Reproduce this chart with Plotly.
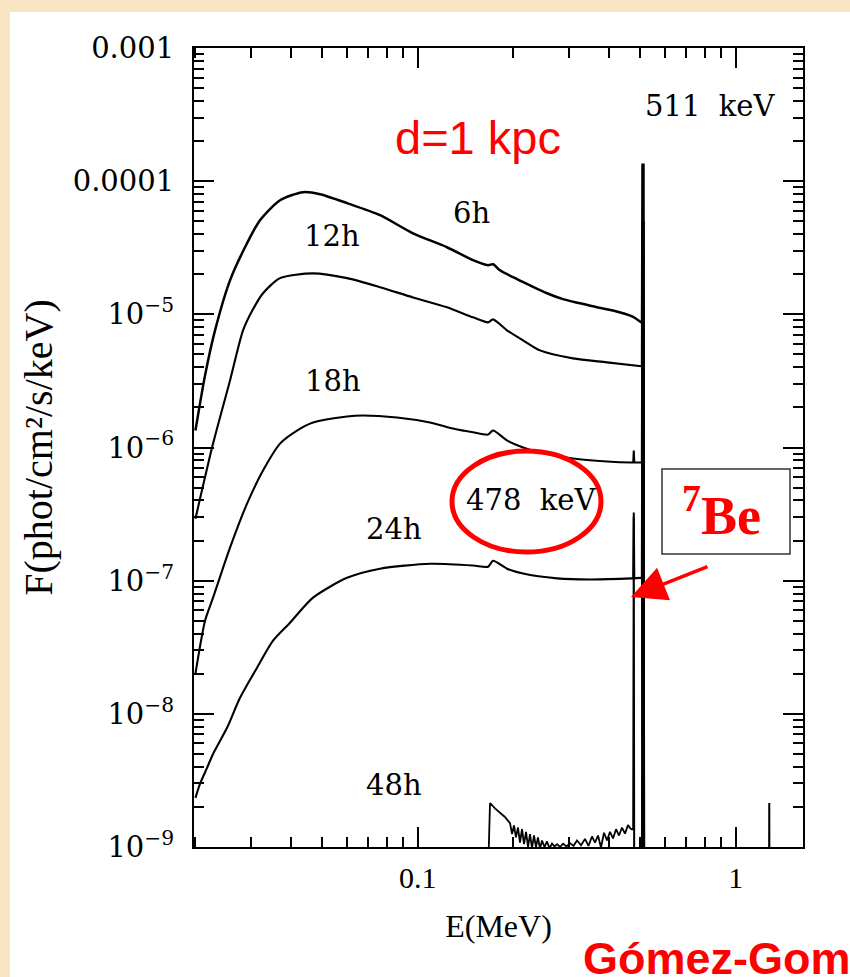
import plotly.graph_objects as go

# Gamma-ray spectra of a nova at d = 1 kpc, at several epochs after the outburst.
# Energies in MeV, fluxes in phot/cm^2/s/keV.

EPOCHS = ["6h", "12h", "18h", "24h", "48h"]

E_6H = [0.0200, 0.02144, 0.02305, 0.02569, 0.02906, 0.03192, 0.03690, 0.04358,
        0.04929, 0.05994, 0.07611, 0.09665, 0.1236, 0.1492, 0.1664, 0.1725,
        0.1815, 0.1993, 0.2255, 0.2550, 0.2864, 0.3238, 0.3663, 0.4113, 0.4721, 0.505]
F_6H = [1.34e-6, 3.48e-6, 7.58e-6, 1.80e-5, 3.42e-5, 5.09e-5, 7.19e-5, 8.26e-5,
        7.98e-5, 6.84e-5, 5.55e-5, 4.06e-5, 3.19e-5, 2.55e-5, 2.34e-5, 2.38e-5,
        2.14e-5, 1.90e-5, 1.65e-5, 1.44e-5, 1.30e-5, 1.21e-5, 1.13e-5, 1.07e-5, 9.66e-6, 8.70e-6]

E_12H = [0.0200, 0.02272, 0.02569, 0.02823, 0.03034, 0.03262, 0.03690, 0.04686,
         0.05994, 0.07611, 0.09665, 0.1236, 0.1492, 0.1664, 0.1725, 0.1909,
         0.2144, 0.2424, 0.3079, 0.3938, 0.505]
F_12H = [2.92e-7, 1.07e-6, 3.19e-6, 7.58e-6, 1.09e-5, 1.44e-5, 1.87e-5, 2.03e-5,
         1.87e-5, 1.60e-5, 1.34e-5, 1.13e-5, 9.49e-6, 8.70e-6, 9.16e-6, 7.58e-6,
         6.38e-6, 5.36e-6, 4.67e-6, 4.36e-6, 4.07e-6]

E_18H = [0.0200, 0.02144, 0.02272, 0.02569, 0.02906, 0.03262, 0.03690, 0.04173,
         0.04686, 0.05994, 0.06730, 0.08607, 0.1093, 0.1291, 0.1492, 0.1664,
         0.1725, 0.1909, 0.2144, 0.2424, 0.3079, 0.3938, 0.4721, 0.505]
F_18H = [2.00e-8, 5.00e-8, 7.45e-8, 1.77e-7, 3.79e-7, 6.71e-7, 1.07e-6, 1.34e-6,
         1.54e-6, 1.71e-6, 1.74e-6, 1.68e-6, 1.54e-6, 1.39e-6, 1.30e-6, 1.25e-6,
         1.34e-6, 1.13e-6, 1.00e-6, 9.16e-7, 8.26e-7, 7.85e-7, 7.71e-7, 7.71e-7]

E_24H = [0.0200, 0.02067, 0.02175, 0.02272, 0.02514, 0.02762, 0.03124, 0.03508,
         0.03966, 0.04686, 0.05994, 0.07611, 0.1093, 0.1492, 0.1664, 0.1725,
         0.1909, 0.2144, 0.2743, 0.3482, 0.4721, 0.505]
F_24H = [2.34e-9, 2.98e-9, 3.93e-9, 5.00e-9, 7.85e-9, 1.32e-8, 2.22e-8, 3.54e-8,
         4.83e-8, 7.45e-8, 1.05e-7, 1.23e-7, 1.34e-7, 1.30e-7, 1.27e-7, 1.41e-7,
         1.23e-7, 1.13e-7, 1.04e-7, 1.02e-7, 1.04e-7, 1.05e-7]

E_48H = [0.1660, 0.1688, 0.1750, 0.1815, 0.1880, 0.1951, 0.1980, 0.2008, 0.2037,
         0.2067, 0.2097, 0.2128, 0.2159, 0.2191, 0.2223, 0.2255, 0.2288, 0.2321,
         0.2355, 0.2389, 0.2424, 0.2460, 0.2505, 0.2550, 0.2597, 0.2644, 0.2693,
         0.2743, 0.2803, 0.2864, 0.2938, 0.3013, 0.3090, 0.3169, 0.3262, 0.3358,
         0.3444, 0.3532, 0.3610, 0.3690, 0.3770, 0.3853, 0.3938, 0.4024, 0.4113,
         0.4204, 0.4296, 0.4389, 0.4486, 0.4584, 0.4686]
F_48H = [5.0e-10, 2.14e-9, 1.95e-9, 1.80e-9, 1.68e-9, 1.51e-9, 1.25e-9, 1.45e-9, 1.18e-9,
         1.40e-9, 1.08e-9, 1.36e-9, 1.05e-9, 1.30e-9, 1.00e-9, 1.25e-9, 0.98e-9, 1.22e-9,
         1.00e-9, 1.18e-9, 0.97e-9, 1.12e-9, 1.00e-9, 1.10e-9, 0.98e-9, 1.06e-9, 1.01e-9,
         1.05e-9, 1.00e-9, 1.06e-9, 1.01e-9, 1.07e-9, 1.02e-9, 1.12e-9, 1.03e-9, 1.15e-9,
         1.02e-9, 1.20e-9, 1.08e-9, 1.22e-9, 0.99e-9, 1.28e-9, 1.12e-9, 1.30e-9, 1.16e-9,
         1.36e-9, 1.22e-9, 1.40e-9, 1.26e-9, 1.46e-9, 1.36e-9]

SPECTRA_E = [E_6H, E_12H, E_18H, E_24H, E_48H]
SPECTRA_F = [F_6H, F_12H, F_18H, F_24H, F_48H]

# gamma-ray lines (MeV) and their peak fluxes per epoch (None = not visible)
E_BE7, E_ANNIH, E_NA22 = 0.478, 0.511, 1.275
PEAK_478 = [None, None, 9.49e-7, 3.25e-7, 3.0e-7]
PEAK_511 = [1.36e-4, 5.0e-5, 1.1e-5, 2.2e-6, 3.5e-9]
PEAK_1275 = [None, None, None, None, 2.14e-9]
FLOOR = 1e-10  # below the plotted range

Y_TICKS = [1e-9, 1e-8, 1e-7, 1e-6, 1e-5, 1e-4, 1e-3]
Y_TICK_LABELS = ["10<sup>−9</sup>", "10<sup>−8</sup>", "10<sup>−7</sup>", "10<sup>−6</sup>",
                 "10<sup>−5</sup>", "0.0001", "0.001"]
X_TICKS = [0.1, 1]
X_TICK_LABELS = ["0.1", "1"]

W, H = 850, 977
ML, MR, MT, MB = 194, 47, 48, 130
PW, PH = W - ML - MR, H - MT - MB


def fx(px):
    """figure pixel column -> paper x"""
    return (px - ML) / PW


def fy(py):
    """figure pixel row -> paper y"""
    return (H - MB - py) / PH


fig = go.Figure()

# continuum of each epoch
for i, (e, f) in enumerate(zip(SPECTRA_E, SPECTRA_F)):
    jagged = EPOCHS[i] == "48h"
    fig.add_trace(go.Scatter(
        x=e, y=f, mode="lines", name=EPOCHS[i],
        line=dict(color="black", width=2.5 if i == 0 else (1.8 if jagged else 2.1),
                  shape="linear" if jagged else "spline", smoothing=0.7),
        hoverinfo="skip", showlegend=False))

# line features on top of each continuum
for i, (e, f) in enumerate(zip(SPECTRA_E, SPECTRA_F)):
    last_e, last_f = e[-1], f[-1]
    jagged = EPOCHS[i] == "48h"
    if PEAK_478[i] is not None:
        base = f[-2] if not jagged else f[-1]
        xs = [E_BE7 * 0.996, E_BE7, E_BE7 * 1.004]
        ys = [base, PEAK_478[i], FLOOR if jagged else base]
        if jagged:
            xs = [last_e] + xs
            ys = [last_f] + ys
        fig.add_trace(go.Scatter(x=xs, y=ys, mode="lines",
                                 line=dict(color="black", width=2.0),
                                 hoverinfo="skip", showlegend=False))
    if jagged:
        xs = [E_ANNIH * 0.997, E_ANNIH, E_ANNIH * 1.003]
        ys = [FLOOR, PEAK_511[i], FLOOR]
    else:
        xs = [last_e, E_ANNIH * 0.997, E_ANNIH, E_ANNIH * 1.003]
        ys = [last_f, last_f, PEAK_511[i], FLOOR]
    fig.add_trace(go.Scatter(x=xs, y=ys, mode="lines",
                             line=dict(color="black", width=3.5),
                             hoverinfo="skip", showlegend=False))
    if PEAK_1275[i] is not None:
        fig.add_trace(go.Scatter(x=[E_NA22 * 0.997, E_NA22, E_NA22 * 1.003],
                                 y=[FLOOR, PEAK_1275[i], FLOOR], mode="lines",
                                 line=dict(color="black", width=2.0),
                                 hoverinfo="skip", showlegend=False))

minor_x = [k * 10.0 ** d for d in (-2, -1) for k in range(2, 10)]
minor_y = [k * 10.0 ** d for d in range(-9, -3) for k in range(2, 10)]

axis_common = dict(
    type="log", showgrid=False, zeroline=False, showline=True, linewidth=2,
    linecolor="black", mirror="ticks", ticks="inside", ticklen=20, tickwidth=2,
    tickcolor="black",
)

fig.update_layout(
    width=W, height=H,
    margin=dict(l=ML, r=MR, t=MT, b=MB, autoexpand=False),
    paper_bgcolor="#F8E5C2", plot_bgcolor="white",
    showlegend=False,
    xaxis=dict(
        **axis_common,
        range=[-1.7035, 0.2116],
        ticklabelstandoff=3,
        tickmode="array", tickvals=X_TICKS, ticktext=X_TICK_LABELS,
        tickfont=dict(family="Liberation Serif", size=30, color="black"),
        minor=dict(tickmode="array", tickvals=minor_x, ticks="inside", ticklen=10,
                   tickwidth=1.5, tickcolor="black", showgrid=False),
        title=dict(text="E(MeV)", standoff=22,
                   font=dict(family="Liberation Serif", size=32, color="black")),
    ),
    yaxis=dict(
        **axis_common,
        range=[-9, -3],
        ticklabelstandoff=12,
        tickmode="array", tickvals=Y_TICKS, ticktext=Y_TICK_LABELS,
        tickfont=dict(family="DejaVu Serif", size=29, color="black"),
        minor=dict(tickmode="array", tickvals=minor_y, ticks="inside", ticklen=10,
                   tickwidth=1.5, tickcolor="black", showgrid=False),
        title=dict(text="F(phot/cm²/s/keV)", standoff=8,
                   font=dict(family="Liberation Serif", size=40, color="black")),
    ),
)

shapes = [
    # white sheet behind the figure
    dict(type="rect", xref="paper", yref="paper", layer="below",
         x0=fx(10), x1=fx(850), y0=fy(977), y1=fy(12),
         fillcolor="white", line=dict(width=0)),
    # ring around the 478 keV label
    dict(type="circle", xref="paper", yref="paper",
         x0=fx(452), x1=fx(601), y0=fy(552), y1=fy(451),
         line=dict(color="#FF0000", width=5)),
    # frame of the 7Be tag
    dict(type="rect", xref="paper", yref="paper",
         x0=fx(662), x1=fx(790), y0=fy(554), y1=fy(469),
         line=dict(color="#333333", width=1.5)),
]
fig.update_layout(shapes=shapes)

label_font = dict(family="DejaVu Serif", size=29, color="black")
annotations = []
for text, px, py in [("6h", 471, 213), ("12h", 332, 236), ("18h", 333, 381),
                     ("24h", 394, 529), ("48h", 394, 785),
                     ("511\u00a0\u00a0keV", 710, 106), ("478\u00a0\u00a0keV", 531, 500)]:
    annotations.append(dict(text=text, x=fx(px), y=fy(py), xref="paper", yref="paper",
                            showarrow=False, font=label_font,
                            xanchor="center", yanchor="middle"))

annotations += [
    dict(text="d=1 kpc", x=fx(478), y=fy(138), xref="paper", yref="paper",
         showarrow=False, xanchor="center", yanchor="middle",
         font=dict(family="Liberation Sans", size=47, color="#FF0000")),
    dict(text="<b><sup>7</sup>Be</b>", x=fx(721), y=fy(511), xref="paper", yref="paper",
         showarrow=False, xanchor="center", yanchor="middle",
         font=dict(family="Liberation Serif", size=54, color="#FF0000")),
    dict(text="", x=fx(631), y=fy(597), xref="paper", yref="paper",
         showarrow=True, ax=78, ay=-31, arrowcolor="#FF0000",
         arrowwidth=3.5, arrowhead=2, arrowsize=2.0),
    dict(text="<b>Gómez-Gomar</b>", x=fx(581), y=fy(958), xref="paper", yref="paper",
         showarrow=False, xanchor="left", yanchor="middle",
         font=dict(family="Liberation Sans", size=45, color="#FF0000")),
]
fig.update_layout(annotations=annotations)

fig.write_html("out.html")
